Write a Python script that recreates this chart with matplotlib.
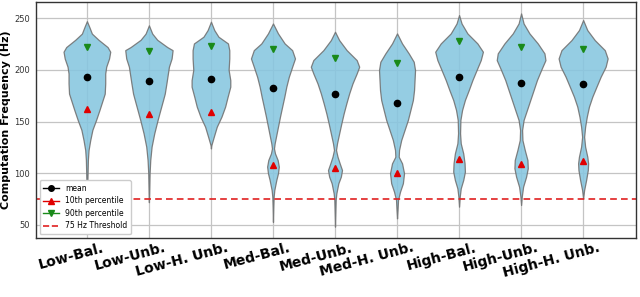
import matplotlib
matplotlib.use("Agg")
from matplotlib import pyplot as plt
from matplotlib.lines import Line2D
from matplotlib.transforms import ScaledTranslation
import numpy as np

labels = ["Low-Bal.", "Low-Unb.", "Low-H. Unb.", "Med-Bal.", "Med-Unb.",
          "Med-H. Unb.", "High-Bal.", "High-Unb.", "High-H. Unb."]

means = [193, 189, 191, 182, 177, 168, 193, 187, 186]
p10 = [162, 157, 159, 108, 105, 100, 114, 109, 112]
p90 = [222, 218, 223, 220, 211, 207, 228, 222, 220]
threshold = 75

# density profiles: (Hz, relative width)
low_bal = [(80, 0), (87, 2), (100, 4), (113, 6), (122.5, 10), (132, 20), (142, 33),
           (151.5, 55), (161, 75), (171, 95), (177, 107), (187, 110), (196.5, 110),
           (203, 116), (211, 133), (217.5, 140), (222, 124), (229, 70), (235, 30),
           (241.6, 14), (247, 0)]
low_unb = [(72, 0), (80, 1.5), (100, 4), (112.8, 8), (125.7, 16), (138.6, 32),
           (151.5, 52), (161, 68), (171, 85), (177, 95), (187, 105), (203, 120),
           (211, 136), (219, 142), (222, 110), (229, 50), (235, 20), (243, 0)]
low_hunb = [(124, 0), (127, 2), (135.3, 17), (145, 35), (154.7, 63), (164.4, 85),
            (174, 100), (183.7, 116), (190, 116), (200, 106), (211, 110), (219, 110),
            (225.5, 102), (232, 45), (238.4, 20), (246.5, 0)]
med_bal = [(53, 0), (67.7, 2), (77.4, 4), (83.8, 8), (93.5, 20), (100, 30), (106.4, 35),
           (112.8, 28), (119.2, 12), (124, 6), (128.9, 10), (135.3, 18), (145, 30),
           (154.7, 42), (164.4, 55), (174, 68), (183.7, 80), (193.3, 95), (203, 115),
           (211, 132), (219, 115), (225.5, 70), (235.2, 30), (244.8, 0)]
med_unb = [(48.4, 0), (61.3, 2), (74.2, 4), (80.6, 8), (90.3, 20), (96.7, 35),
           (103.1, 42), (109.6, 28), (116, 15), (122.5, 6), (128.9, 12), (138.6, 25),
           (148.2, 38), (157.9, 52), (167.6, 68), (177.2, 85), (186.9, 105),
           (196.5, 130), (203, 145), (209.4, 130), (219, 70), (228.7, 25), (236.8, 0)]
med_hunb = [(56.4, 0), (64.5, 3), (74.2, 6), (82.2, 18), (90.3, 35), (100, 42),
            (109.6, 30), (116, 10), (122.5, 12), (132.1, 25), (141.8, 45), (151.5, 65),
            (161.1, 80), (170.8, 95), (180.4, 102), (190.1, 105), (199.8, 108),
            (207.8, 100), (215.9, 70), (225.5, 30), (235.2, 0)]
high_bal = [(67.7, 0), (77.4, 4), (85.4, 10), (93.5, 25), (101.5, 35), (109.6, 33),
            (119.2, 25), (128.9, 10), (138.6, 6), (151.5, 8), (161.1, 18), (170.8, 35),
            (180.4, 58), (190.1, 80), (199.8, 105), (209.4, 130), (217.5, 143),
            (225.5, 110), (235.2, 50), (244.8, 15), (252.9, 0)]
high_unb = [(69.3, 0), (77.4, 4), (87, 12), (96.7, 30), (104.8, 40), (112.8, 38),
            (122.5, 22), (132.1, 8), (141.8, 6), (151.5, 15), (161.1, 35), (170.8, 55),
            (180.4, 75), (190.1, 95), (199.8, 120), (209.4, 146), (215.9, 140),
            (225.5, 100), (235.2, 50), (244.8, 15), (254.5, 0)]
high_hunb = [(75.8, 0), (83.8, 6), (93.5, 18), (103.1, 28), (109.6, 30), (116, 25),
             (125.7, 12), (135.3, 6), (145, 12), (154.7, 22), (164.4, 35), (174, 55),
             (183.7, 80), (193.3, 105), (203, 135), (211, 147), (219, 130),
             (228.7, 70), (238.4, 25), (248.1, 0)]

profiles = [low_bal, low_unb, low_hunb, med_bal, med_unb, med_hunb,
            high_bal, high_unb, high_hunb]

positions = np.arange(len(labels))

fig = plt.figure(figsize=(6.4, 2.97), dpi=100)
ax = fig.add_axes([0.056, 0.199, 0.938, 0.794])
ax.set_axisbelow(True)
ax.grid(True, color="#c4c4c4", linewidth=0.9)

vpstats = []
widths = []
for prof, m in zip(profiles, means):
    arr = np.array(prof, dtype=float)
    vpstats.append({"coords": arr[:, 0], "vals": arr[:, 1], "mean": m,
                    "median": m, "min": arr[0, 0], "max": arr[-1, 0]})
    widths.append(arr[:, 1].max() / 186.0)

parts = ax.violin(vpstats, positions=positions, widths=widths,
                  showmeans=False, showextrema=False, showmedians=False)
for body in parts["bodies"]:
    body.set_facecolor("#87c6e0")
    body.set_edgecolor("#707070")
    body.set_linewidth(0.9)
    body.set_alpha(0.88)

ax.plot(positions, means, "o", color="black", markersize=4.5, zorder=3)
ax.plot(positions, p10, "^", color="#e00000", markersize=4.5, zorder=3)
ax.plot(positions, p90, "v", color="#1a8a1a", markersize=4.5, zorder=3)
ax.axhline(threshold, color="#e02020", linestyle="--", linewidth=1.2, dashes=(4, 2.5))

ax.set_xlim(-0.823, 8.855)
ax.set_ylim(37.5, 265.5)
ax.set_yticks([50, 100, 150, 200, 250])
ax.set_xticks(positions)
ax.set_xticklabels(labels, rotation=15, ha="right", rotation_mode="anchor",
                   fontsize=10, fontweight="bold")
ax.tick_params(axis="y", labelsize=6, length=0, pad=4, labelcolor="#333333")
ax.tick_params(axis="x", length=0, pad=2)
shift = ScaledTranslation(15 / 100, 0, fig.dpi_scale_trans)
for tl in ax.get_xticklabels():
    tl.set_transform(tl.get_transform() + shift)
ax.set_ylabel("Computation Frequency (Hz)", fontsize=8, fontweight="bold")
ax.yaxis.set_label_coords(-0.041, 0.5)
for sp in ax.spines.values():
    sp.set_color("#333333")
    sp.set_linewidth(1.0)

handles = [
    Line2D([], [], color="black", marker="o", markersize=4, linewidth=1),
    Line2D([], [], color="#e00000", marker="^", markersize=4, linewidth=1),
    Line2D([], [], color="#1a8a1a", marker="v", markersize=4, linewidth=1),
    Line2D([], [], color="#e02020", linestyle="--", linewidth=1.2),
]
ax.legend(handles, ["mean", "10th percentile", "90th percentile", "75 Hz Threshold"],
          loc="lower left", fontsize=5.5, handlelength=2.0, borderpad=0.5,
          labelspacing=0.45, framealpha=1.0, edgecolor="#cccccc",
          bbox_to_anchor=(0.0, 0.0))

fig.savefig("out.png", dpi=100)
